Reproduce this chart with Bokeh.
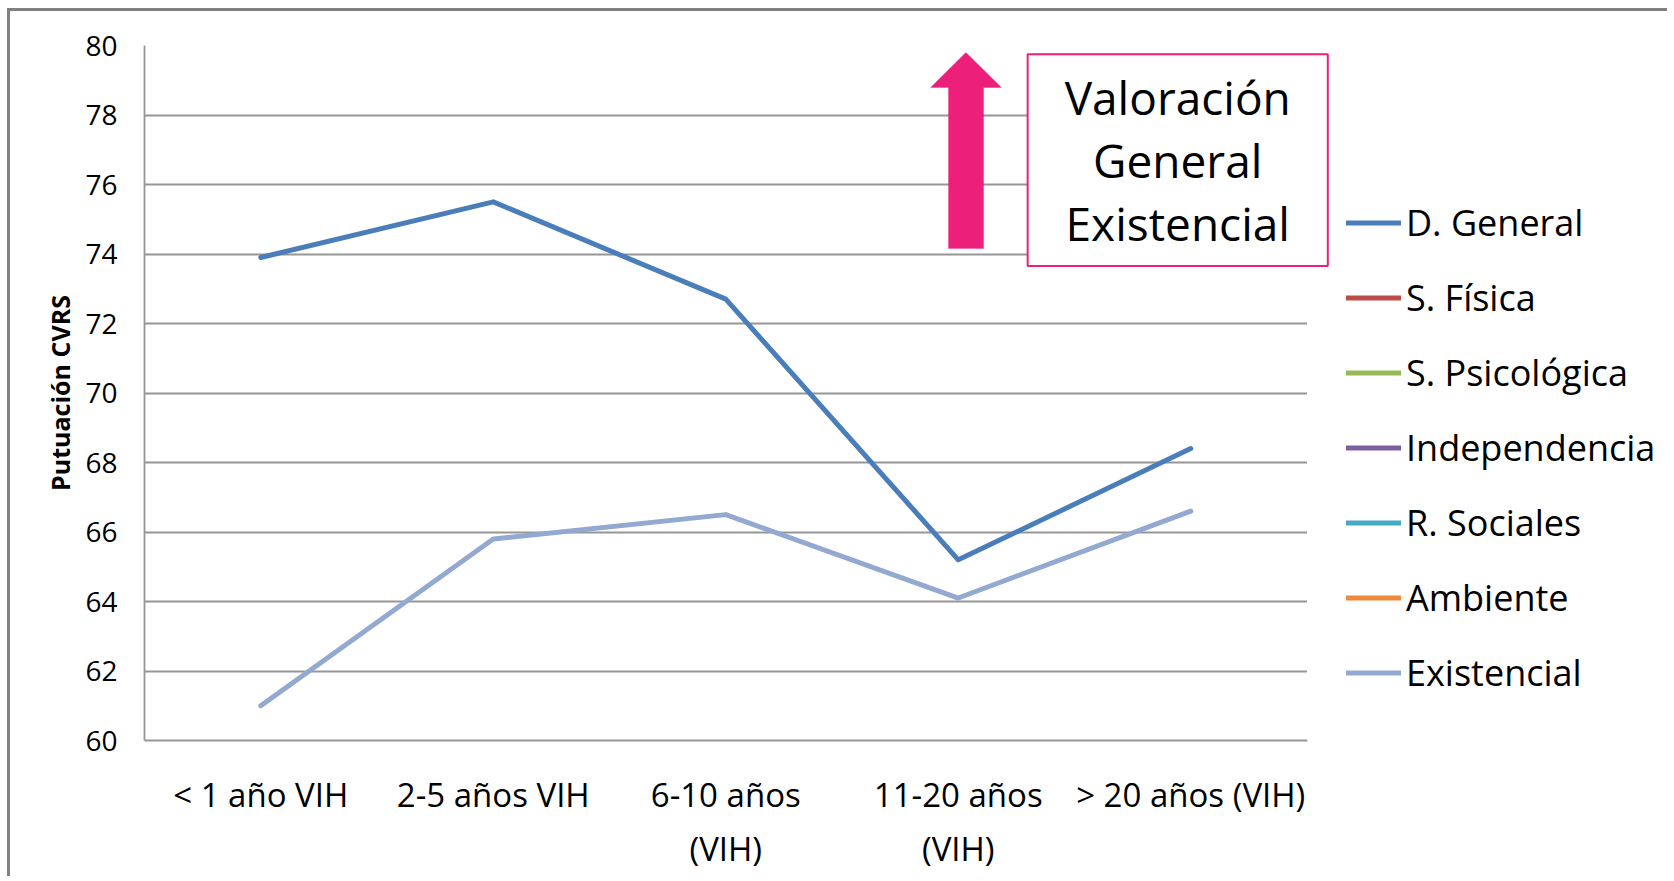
from bokeh.plotting import figure
from bokeh.models import (Range1d, Legend, LegendItem, SingleIntervalTicker, FixedTicker,
                          Label, PolyAnnotation, BoxAnnotation)
from bokeh.embed import file_html
from bokeh.resources import INLINE

nan = float("nan")

# ---- data ----
categories = ["< 1 año VIH", "2-5 años VIH", "6-10 años\n(VIH)", "11-20 años\n(VIH)", "> 20 años (VIH)"]
d_general = [73.9, 75.5, 72.7, 65.2, 68.4]
s_fisica = [nan, nan, nan, nan, nan]        # not shown in the chart
s_psicologica = [nan, nan, nan, nan, nan]   # not shown in the chart
independencia = [nan, nan, nan, nan, nan]   # not shown in the chart
r_sociales = [nan, nan, nan, nan, nan]      # not shown in the chart
ambiente = [nan, nan, nan, nan, nan]        # not shown in the chart
existencial = [61.0, 65.8, 66.5, 64.1, 66.6]

series_names = ["D. General", "S. Física", "S. Psicológica", "Independencia", "R. Sociales", "Ambiente", "Existencial"]
series_values = [d_general, s_fisica, s_psicologica, independencia, r_sociales, ambiente, existencial]
series_colors = ["#4A7EBB", "#BE4B48", "#98B954", "#7D60A0", "#46AAC5", "#F08A3A", "#93A9D1"]

y_label = "Putuación CVRS"
box_text = "Valoración\nGeneral\nExistencial"

FONT = "Open Sans"
PINK = "#EC1F7A"
GRID = "#969696"

# category positions on the x scale (band centres)
n_cat = len(categories)
cat_pos = [i + 0.5 for i in range(n_cat)]

# the frame also spans the legend area on the right (x up to 6.5634 bands)
p = figure(
    x_range=Range1d(0, 6.5634), y_range=Range1d(60, 80),
    width=1660, height=868, output_backend="svg", toolbar_location=None,
    min_border_left=134, min_border_top=34, min_border_right=0, min_border_bottom=139,
)
p.styles = {"margin-left": "7px", "margin-top": "8px",
            "border-left": "3px solid #808080", "border-top": "3px solid #808080"}
p.outline_line_color = None
p.background_fill_color = "white"
p.border_fill_color = "white"

# axes
p.xgrid.grid_line_color = None
p.ygrid.grid_line_color = GRID
p.ygrid.grid_line_width = 1.8
p.yaxis.ticker = SingleIntervalTicker(interval=2)
p.xaxis.ticker = FixedTicker(ticks=cat_pos)
p.xaxis.major_label_overrides = {pos: lab for pos, lab in zip(cat_pos, categories)}
p.xaxis.bounds = (0, n_cat)
for ax in (p.xaxis[0], p.yaxis[0]):
    ax.axis_line_color = GRID
    ax.axis_line_width = 1.8
    ax.major_tick_line_color = None
    ax.minor_tick_line_color = None
    ax.major_label_text_font = FONT
    ax.major_label_text_color = "black"
p.yaxis.major_label_text_font_size = "28px"
p.yaxis.major_label_standoff = 21
p.xaxis.major_label_text_font_size = "33px"
p.xaxis.major_label_standoff = 25
p.xaxis.major_label_orientation = "horizontal"
p.yaxis.axis_label = y_label
p.yaxis.axis_label_text_font = FONT
p.yaxis.axis_label_text_font_style = "bold"
p.yaxis.axis_label_text_font_size = "25px"
p.yaxis.axis_label_text_color = "black"
p.yaxis.axis_label_standoff = 5

# lines
items = []
for name, vals, col in zip(series_names, series_values, series_colors):
    r = p.line(x=cat_pos[:len(vals)], y=vals, line_color=col, line_width=5,
               line_join="round", line_cap="round")
    items.append(LegendItem(label=name, renderers=[r]))

# white area hiding grid lines right of the last category band
p.add_layout(BoxAnnotation(left=n_cat, fill_color="white", fill_alpha=1.0, line_color=None))

# pink up arrow (annotation)
arrow = PolyAnnotation(
    xs=[3.458, 3.458, 3.381, 3.533, 3.686, 3.609, 3.609],
    ys=[74.16, 78.79, 78.79, 79.80, 78.79, 78.79, 74.16],
    fill_color=PINK, fill_alpha=1.0, line_color=PINK, line_width=1,
)
p.add_layout(arrow)

box = Label(
    x=4.4439, y=76.70, text=box_text, text_align="center", text_baseline="middle",
    text_font=FONT, text_font_size="46px", text_color="black", text_line_height=1.014,
    border_line_color=PINK, border_line_width=2, background_fill_color="white",
    padding=dict(left=37, right=37, top=12, bottom=12),
)
p.add_layout(box)

legend = Legend(
    items=items, location=(1202, 30), orientation="vertical",
    padding=0, margin=0, spacing=0, glyph_width=55, glyph_height=75, label_height=75,
    label_standoff=5, label_text_font=FONT, label_text_font_size="36px", label_text_color="black",
    label_text_baseline="middle",
    border_line_color=None, background_fill_color=None,
)
p.add_layout(legend, "center")

open("out.html", "w").write(file_html(p, INLINE))
